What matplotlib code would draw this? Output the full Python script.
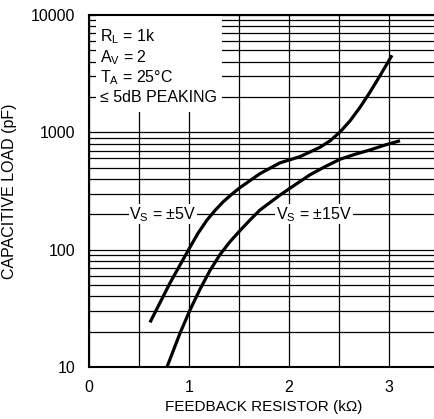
import matplotlib.pyplot as plt
from matplotlib.patches import Rectangle

plt.rcParams['font.family'] = ['Liberation Sans', 'DejaVu Sans']
plt.rcParams['mathtext.fontset'] = 'custom'
plt.rcParams['mathtext.rm'] = 'Liberation Sans'

# curve for VS = +/-5V (feedback resistor kOhm, capacitive load pF)
r_5v = [0.61, 0.81, 0.91, 1.01, 1.09, 1.18, 1.26, 1.34, 1.43, 1.51, 1.71, 1.91,
        2.11, 2.31, 2.41, 2.51, 2.61, 2.71, 2.81, 2.91, 3.03]
c_5v = [24, 52, 74, 105, 138, 179, 216, 255, 298, 338, 445, 550,
        621, 746, 847, 1007, 1253, 1633, 2203, 3041, 4540]

# curve for VS = +/-15V
r_15v = [0.78, 0.91, 1.01, 1.11, 1.21, 1.31, 1.41, 1.51, 1.61, 1.71, 1.91, 2.01,
         2.21, 2.36, 2.51, 2.66, 2.81, 2.96, 3.11]
c_15v = [10, 19.4, 30.6, 46, 66.5, 90.8, 117, 145.5, 179, 218, 292, 334,
         435, 510, 590, 650, 708, 780, 849]

xticks = [0, 1, 2, 3]
yticks = [10, 100, 1000, 10000]
conditions = [r'R$_\mathregular{L}$ = 1k', r'A$_\mathregular{V}$ = 2',
              r'T$_\mathregular{A}$ = 25°C', '≤ 5dB PEAKING']

fig = plt.figure(figsize=(4.35, 4.19), dpi=100)
ax = fig.add_axes([0.2046, 0.1241, 0.8046, 0.840])
ax.set_yscale('log')
ax.set_xlim(0, 3.5)
ax.set_ylim(10, 10000)

ax.set_xticks([0, 0.5, 1, 1.5, 2, 2.5, 3, 3.5])
ax.set_xticklabels(['0', '', '1', '', '2', '', '3', ''])
ax.set_yticks(yticks)
ax.set_yticklabels([str(v) for v in yticks])
ax.tick_params(axis='both', which='both', length=0, labelsize=11.5)
ax.tick_params(axis='x', pad=9)
ax.tick_params(axis='y', pad=10)
ax.grid(True, which='both', color='black', linewidth=0.9)
for s in ax.spines.values():
    s.set_linewidth(1.5)

ax.plot(r_5v, c_5v, color='black', linewidth=2.3, solid_capstyle='butt', zorder=4)
ax.plot(r_15v, c_15v, color='black', linewidth=2.3, solid_capstyle='butt', zorder=4)

# white box behind the test conditions
ax.add_patch(Rectangle((0.07, 1493), 1.26, 10000 - 1493, facecolor='white',
                       edgecolor='none', zorder=2))
ys = [6500, 4300, 2950, 2000]
for y, t in zip(ys, conditions):
    ax.text(0.11, y, t, fontsize=11.5, va='center', ha='left', zorder=3,
            bbox=dict(facecolor='white', edgecolor='none', pad=0.5))

ax.text(0.74, 200, r'V$_\mathregular{S}$ = ±5V', fontsize=11.5, ha='center', va='center',
        zorder=3, bbox=dict(facecolor='white', edgecolor='none', pad=0.5))
ax.text(2.25, 200, r'V$_\mathregular{S}$ = ±15V', fontsize=11.5, ha='center', va='center',
        zorder=3, bbox=dict(facecolor='white', edgecolor='none', pad=0.5))

ax.set_xlabel('FEEDBACK RESISTOR (kΩ)', fontsize=11, labelpad=8)
ax.set_ylabel('CAPACITIVE LOAD (pF)', fontsize=11.5, labelpad=10)
ax.xaxis.set_label_coords(0.5, -0.095)

fig.savefig('out.png', dpi=100)
